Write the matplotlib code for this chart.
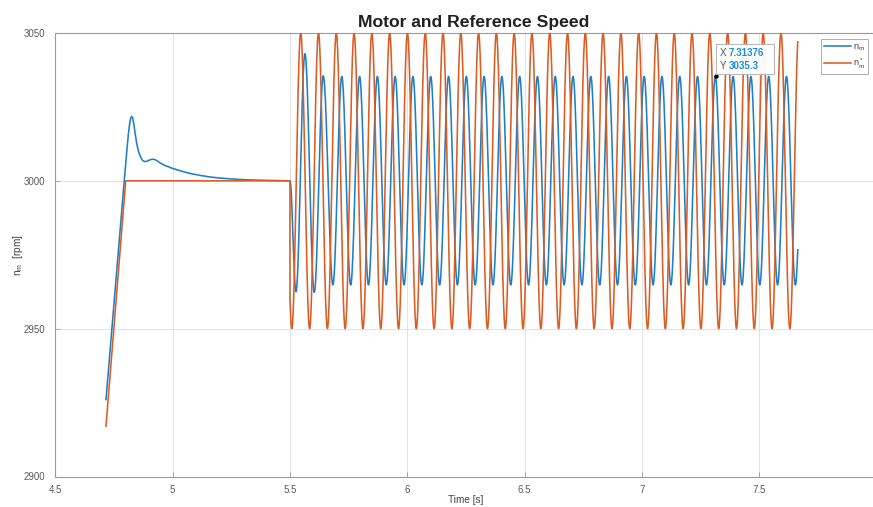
import numpy as np
import matplotlib
matplotlib.use("Agg")
import matplotlib.pyplot as plt
from matplotlib.patches import Rectangle

plt.rcParams['font.family'] = ['Liberation Sans', 'DejaVu Sans']
plt.rcParams['mathtext.fontset'] = 'custom'
plt.rcParams['mathtext.rm'] = 'Liberation Sans'
plt.rcParams['mathtext.it'] = 'Liberation Sans'

# ---- start-up phase (time in s, speed in rpm) ----
ref_startup_t = [4.716, 4.800, 5.500]
ref_startup_v = [2917.0, 3000.0, 3000.0]

motor_startup_t = [4.716, 4.728, 4.740, 4.752, 4.764, 4.776, 4.787, 4.796, 4.804,
                   4.811, 4.817, 4.822, 4.826, 4.830, 4.835, 4.841, 4.848, 4.856,
                   4.864, 4.872, 4.881, 4.890, 4.900, 4.912, 4.925, 4.937, 4.950,
                   4.965, 4.980, 4.996, 5.020, 5.050, 5.080, 5.120, 5.160, 5.200,
                   5.250, 5.300, 5.350, 5.400, 5.450, 5.500]
motor_startup_v = [2926.0, 2937.5, 2949.0, 2960.5, 2972.0, 2983.3, 2993.6, 3002.0, 3009.5,
                   3015.5, 3019.5, 3021.4, 3021.8, 3021.2, 3019.0, 3015.6, 3012.2, 3009.6,
                   3007.9, 3006.9, 3006.5, 3006.6, 3007.0, 3007.3, 3007.2, 3006.6, 3005.9,
                   3005.3, 3004.8, 3004.3, 3003.7, 3003.0, 3002.4, 3001.8, 3001.3, 3000.95,
                   3000.65, 3000.4, 3000.25, 3000.15, 3000.08, 3000.0]

# ---- speed oscillation test ----
osc_start = 5.5
osc_end = 7.664
nominal_speed = 3000.0
ref_amplitude = 50.0
ref_period = 0.0758
ref_first_peak = 5.5458

# motor: first extrema after the start of the test, then steady-state swing
motor_first_ext_t = [5.5256, 5.5639, 5.6036, 5.6419]
motor_first_ext_v = [2962.5, 3043.0, 2962.3, 3035.5]
motor_peak = 3035.3
motor_trough = 2964.8
motor_lag = 0.0235

# data tip
tip_x = 7.31376
tip_y = 3035.3

c_motor = '#1f7fc6'
c_ref = '#dc5c24'


def through_extrema(ext_t, ext_v, t):
    """Smooth half-cosine path between consecutive extrema."""
    ext_t = np.asarray(ext_t)
    ext_v = np.asarray(ext_v)
    i = np.clip(np.searchsorted(ext_t, t, side='right') - 1, 0, len(ext_t) - 2)
    s = (t - ext_t[i]) / (ext_t[i + 1] - ext_t[i])
    return ext_v[i] + (ext_v[i + 1] - ext_v[i]) * (1 - np.cos(np.pi * s)) / 2


t_osc = np.linspace(osc_start, osc_end, 4000)

# reference: sinusoidal speed command around the nominal speed
ref_osc = nominal_speed + ref_amplitude * np.cos(2 * np.pi * (t_osc - ref_first_peak) / ref_period)
ref_t = np.concatenate([ref_startup_t, t_osc])
ref_v = np.concatenate([ref_startup_v, ref_osc])

# motor: follows the reference with a lag and reduced amplitude
n_ext = int((osc_end - osc_start) / (ref_period / 2)) + 4
ref_ext_t = ref_first_peak - ref_period / 2 + np.arange(n_ext) * ref_period / 2
ext_t = list(motor_first_ext_t)
ext_v = list(motor_first_ext_v)
for j in range(len(motor_first_ext_t), n_ext):
    ext_t.append(ref_ext_t[j] + motor_lag)
    ext_v.append(motor_trough if j % 2 == 0 else motor_peak)
ext_t = [osc_start] + ext_t
ext_v = [nominal_speed] + ext_v
motor_osc = through_extrema(ext_t, ext_v, t_osc)
motor_t = np.concatenate([motor_startup_t, t_osc[1:]])
motor_v = np.concatenate([motor_startup_v, motor_osc[1:]])

W, H = 873, 507
fig = plt.figure(figsize=(W / 100, H / 100), dpi=100)
fig.patch.set_facecolor('white')
ax_l, ax_r, ax_t, ax_b = 55.3, 876.6, 33.0, 476.5
ax = fig.add_axes([ax_l / W, 1 - ax_b / H, (ax_r - ax_l) / W, (ax_b - ax_t) / H])

ax.plot(motor_t, motor_v, color=c_motor, lw=1.15, label=r'$n_m$', zorder=3)
ax.plot(ref_t, ref_v, color=c_ref, lw=1.15, label=r'$n_m^*$', zorder=3)

ax.set_xlim(4.5, 8.0)
ax.set_ylim(2900, 3050)
ax.set_xticks([4.5, 5, 5.5, 6, 6.5, 7, 7.5])
ax.set_xticklabels(['4.5', '5', '5.5', '6', '6.5', '7', '7.5'])
ax.set_yticks([2900, 2950, 3000, 3050])
ax.grid(True, color='#e3e3e3', lw=0.7, zorder=0)
ax.set_axisbelow(True)
for sp in ax.spines.values():
    sp.set_color('#9a9a9a')
    sp.set_linewidth(0.8)
ax.tick_params(direction='in', length=3.5, width=0.6, color='#9a9a9a',
               labelsize=7, labelcolor='#5a5a5a')
ax.tick_params(axis='y', pad=7)
ax.tick_params(axis='x', pad=6)

ax.set_xlabel('Time [s]', fontsize=7.2, color='#404040', labelpad=0)
ax.set_ylabel(r'n$_m$  [rpm]', fontsize=7.2, color='#404040')
ax.yaxis.set_label_coords((25 - ax_l) / (ax_r - ax_l), 0.5)
ax.set_title('Motor and Reference Speed', fontsize=12.6, fontweight='bold',
             color='#202020', x=(473.5 - ax_l) / (ax_r - ax_l), pad=4)

leg = ax.legend(loc='upper right', bbox_to_anchor=(868 / W, 1 - 39 / H),
                bbox_transform=fig.transFigure, fontsize=6.5, frameon=True,
                fancybox=False, handlelength=3.0, borderpad=0.35, labelspacing=0.45,
                handletextpad=0.2, borderaxespad=0)
leg.get_frame().set_edgecolor('#9a9a9a')
leg.get_frame().set_linewidth(0.7)
for txt in leg.get_texts():
    txt.set_color('#404040')

# data tip
ax.plot([tip_x], [tip_y], 'o', color='black', ms=2.2, zorder=6)
fig.patches.append(Rectangle((716 / W, 1 - 74 / H), 58 / W, 30 / H,
                             transform=fig.transFigure, facecolor='white',
                             edgecolor='#b5b5b5', lw=0.8, alpha=0.95, zorder=7))
fig.text(720 / W, 1 - 53 / H, 'X', fontsize=7, color='#505050', va='center', zorder=8)
fig.text(729 / W, 1 - 53 / H, f'{tip_x:.5f}', fontsize=7, color='#1a8fe0',
         fontweight='bold', va='center', zorder=8)
fig.text(720 / W, 1 - 66 / H, 'Y', fontsize=7, color='#505050', va='center', zorder=8)
fig.text(729 / W, 1 - 66 / H, f'{tip_y:.1f}', fontsize=7, color='#1a8fe0',
         fontweight='bold', va='center', zorder=8)

fig.savefig('out.png', dpi=100, facecolor='white')
